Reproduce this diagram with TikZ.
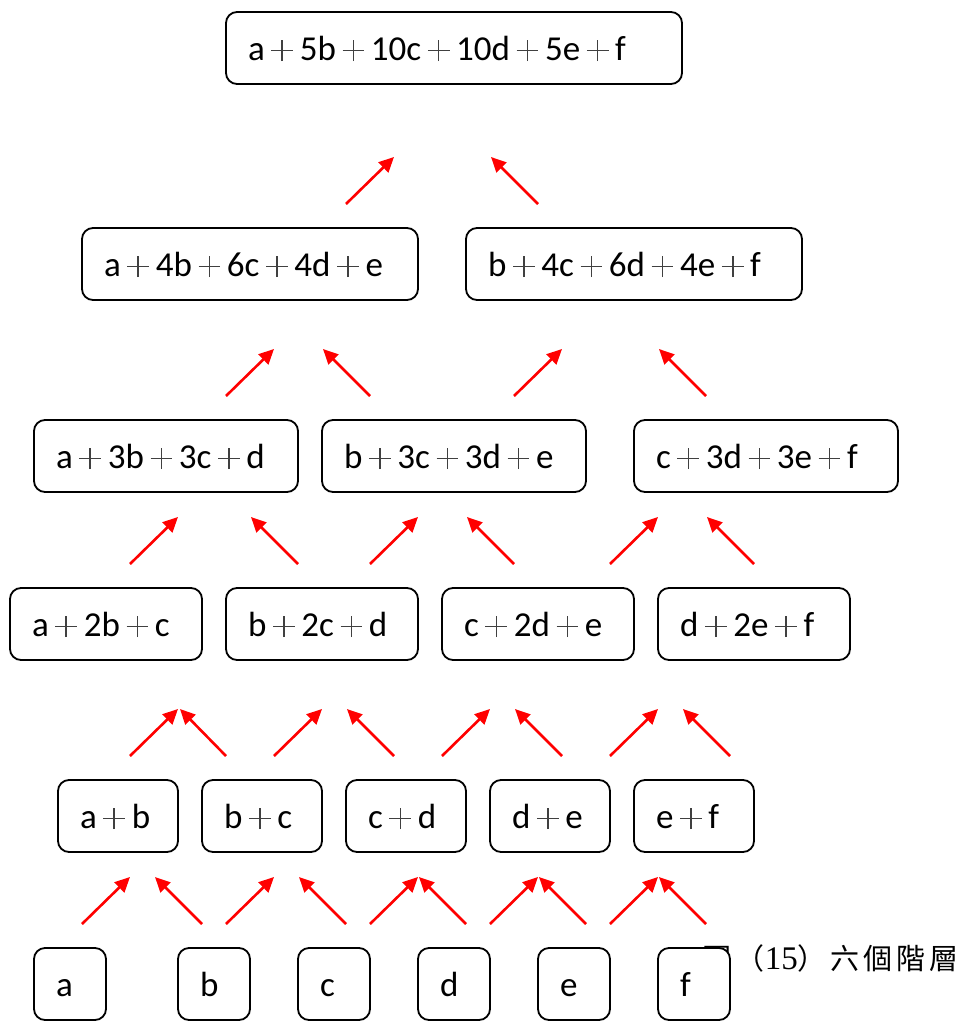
\documentclass[tikz,border=0pt]{standalone}
\usepackage{fontspec}
\setmainfont{Carlito}
\newfontfamily\cjk{Noto Sans CJK TC}
\newfontfamily\serifdig{Liberation Serif}
\usetikzlibrary{arrows.meta}
\newcommand{\lab}{\fontsize{35}{40}\selectfont}
\newcommand{\pls}{\makebox[1em]{\makebox[0pt]{\color{black!75}\rule[0.245em]{0.62em}{0.045em}}\makebox[0pt]{\color{black!75}\rule[-0.03em]{0.045em}{0.6em}}}}
\tikzset{
  bx/.style 2 args={draw, line width=1.8pt, rounded corners=11pt, fill=white,
    minimum width=#1pt, text width=#2pt, minimum height=72pt,
    inner xsep=22pt, inner ysep=0pt, align=left,
    text height=24pt, text depth=0pt, font=\lab},
  arr/.style={draw=red, line width=2.6pt, -{Triangle[length=15pt,width=14pt]}},
  captext/.style={anchor=base east, inner sep=0pt, font=\cjk\fontsize{29}{34}\selectfont}
}
\begin{document}
\begin{tikzpicture}[x=1pt,y=-1pt]
\useasboundingbox (0,0) rectangle (963,1023);
% caption (partly hidden by box f)
\node[captext] (caption) at (959,969) {圖\kern4pt（{\serifdig\fontsize{33}{34}\selectfont 15}）\kern4pt六\kern4pt個\kern4pt階\kern4pt層};
% row 0
\node[bx={456}{412}] (r0) at (454,48) {a\pls5b\pls10c\pls10d\pls5e\pls f};
% row 1
\node[bx={336}{292}] (r1a) at (250,264) {a\pls4b\pls6c\pls4d\pls e};
\node[bx={336}{292}] (r1b) at (634,264) {b\pls4c\pls6d\pls4e\pls f};
% row 2
\node[bx={264}{220}] (r2a) at (166,456) {a\pls3b\pls3c\pls d};
\node[bx={264}{220}] (r2b) at (454,456) {b\pls3c\pls3d\pls e};
\node[bx={264}{220}] (r2c) at (766,456) {c\pls3d\pls3e\pls f};
% row 3
\node[bx={192}{148}] (r3a) at (106,624) {a\pls2b\pls c};
\node[bx={192}{148}] (r3b) at (322,624) {b\pls2c\pls d};
\node[bx={192}{148}] (r3c) at (538,624) {c\pls2d\pls e};
\node[bx={192}{148}] (r3d) at (754,624) {d\pls2e\pls f};
% row 4
\node[bx={120}{76}] (r4a) at (118,816) {a\pls b};
\node[bx={120}{76}] (r4b) at (262,816) {b\pls c};
\node[bx={120}{76}] (r4c) at (406,816) {c\pls d};
\node[bx={120}{76}] (r4d) at (550,816) {d\pls e};
\node[bx={120}{76}] (r4e) at (694,816) {e\pls f};
% row 5
\node[bx={72}{28}] (r5a) at (70,984) {a};
\node[bx={72}{28}] (r5b) at (214,984) {b};
\node[bx={72}{28}] (r5c) at (334,984) {c};
\node[bx={72}{28}] (r5d) at (454,984) {d};
\node[bx={72}{28}] (r5e) at (574,984) {e};
\node[bx={72}{28}] (r5f) at (694,984) {f};
% arrows
\foreach \i/\xa/\ya/\xb/\yb in {
  1/82/924/130/877, 2/202/924/155/877, 3/226/924/274/877, 4/346/924/299/877,
  5/370/924/418/877, 6/466/924/419/877, 7/490/924/538/877, 8/586/924/539/877,
  9/610/924/658/877, 10/706/924/659/877,
  11/130/756/178/709, 12/226/756/180/709, 13/274/756/322/709, 14/394/756/347/709,
  15/442/756/490/709, 16/562/756/515/709, 17/610/756/658/709, 18/730/756/683/709,
  19/130/564/178/517, 20/298/564/251/517, 21/370/564/418/517, 22/514/564/467/517,
  23/610/564/658/517, 24/754/564/707/517,
  25/226/396/274/349, 26/370/396/323/349, 27/514/396/562/349, 28/706/396/659/349,
  29/346/204/394/157, 30/538/204/491/157}{
  \coordinate (s\i) at (\xa,\ya);
  \coordinate (e\i) at (\xb,\yb);
  \draw[arr] (s\i) -- (e\i);
}
\end{tikzpicture}
\end{document}
